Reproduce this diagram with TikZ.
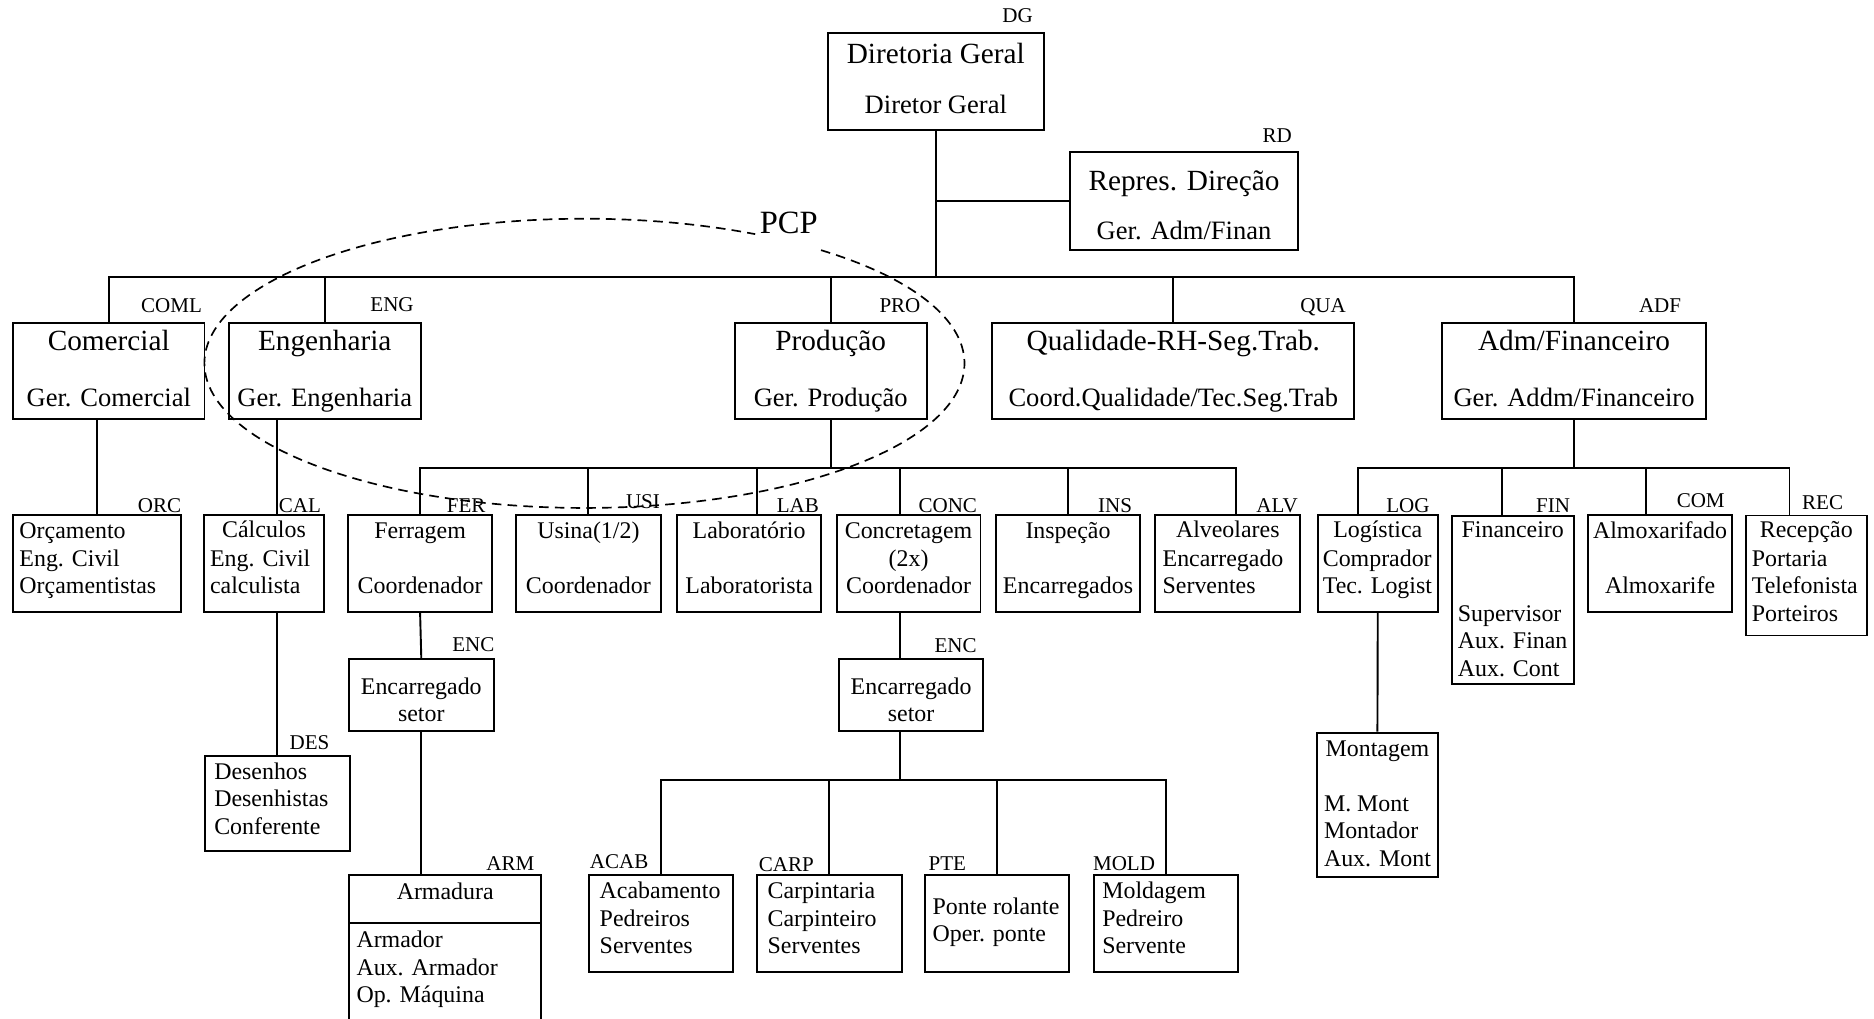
\documentclass[tikz,border=0pt]{standalone}
\usepackage{fontspec}
\setmainfont{Liberation Serif}
\tikzset{
	unit/.style={draw, inner sep=0pt},
	tag/.style={font=\fontsize{8.8}{10}\selectfont, inner sep=0pt, text height=6.2pt, text depth=.9pt},
	ttl/.style={font=\fontsize{12.25}{14}\selectfont, inner sep=0pt, text height=8.6pt, text depth=1.2pt},
	sub/.style={font=\fontsize{11.1}{13}\selectfont, inner sep=0pt, text height=7.8pt, text depth=1.1pt},
	one/.style={font=\fontsize{10}{11.5}\selectfont, inner sep=0pt, text height=7pt, text depth=1pt},
	txt/.style={font=\fontsize{10}{11.5}\selectfont, inner sep=0pt, align=left, anchor=north west},
	txtc/.style={font=\fontsize{10}{11.5}\selectfont, inner sep=0pt, align=center, anchor=north},
	pcpline/.style={dash pattern=on 4pt off 2.6pt, line width=.7pt}
}
\begin{document}
\begin{tikzpicture}[x=.5pt, y=-.5pt, line width=.8pt]
%	\draw[help lines, step=50] (0,0) grid (1568,852);
	\useasboundingbox (0,0) rectangle (1568,852);
	\clip (0,0) rectangle (1568,852);
	% direcao
	\node[unit, minimum width=90.5pt, minimum height=40.5pt] (dg) at (783,68.3) {};
	\node[ttl] (dgt) at (783,46) {Diretoria Geral};
	\node[sub] (dgs) at (783,88.5) {Diretor Geral};
	\node[tag] (dgl) at (851.5,13.5) {DG};
	\node[unit, minimum width=95.3pt, minimum height=40.8pt] (rd) at (990.7,168.3) {};
	\node[ttl] (rdt) at (990.7,152) {Repres. Direção};
	\node[sub] (rds) at (990.7,194) {Ger. Adm/Finan};
	\node[tag] (rdl) at (1068.6,114) {RD};
	% gerencias
	\node[unit, minimum width=80.1pt, minimum height=40pt] (coml) at (91,310.6) {};
	\node[ttl] (comlt) at (91,286) {Comercial};
	\node[sub] (comls) at (91,333.5) {Ger. Comercial};
	\node[tag] (comll) at (143.5,256) {COML};
	\node[unit, minimum width=80.2pt, minimum height=40pt] (eng) at (271.7,310.6) {};
	\node[ttl] (engt) at (271.7,286) {Engenharia};
	\node[sub] (engs) at (271.7,333.5) {Ger. Engenharia};
	\node[tag] (engl) at (328,255) {ENG};
	\node[unit, minimum width=80.3pt, minimum height=40pt] (prod) at (695.1,310.6) {};
	\node[ttl] (prodt) at (695.1,286) {Produção};
	\node[sub] (prods) at (695.1,333.5) {Ger. Produção};
	\node[tag] (prodl) at (753,256) {PRO};
	\node[unit, minimum width=151.4pt, minimum height=40pt] (qua) at (981.7,310.6) {};
	\node[ttl] (quat) at (981.7,286) {Qualidade-RH-Seg.Trab.};
	\node[sub] (quas) at (981.7,333.5) {Coord.Qualidade/Tec.Seg.Trab};
	\node[tag] (qual) at (1107,256.5) {QUA};
	\node[unit, minimum width=110.5pt, minimum height=40pt] (adf) at (1317,310.6) {};
	\node[ttl] (adft) at (1317,286) {Adm/Financeiro};
	\node[sub] (adfs) at (1317,333.5) {Ger. Addm/Financeiro};
	\node[tag] (adfl) at (1389,256) {ADF};
	% setores
	\node[unit, minimum width=70.2pt, minimum height=40.5pt] (orc) at (81.1,471.6) {};
	\node[txt] (orct) at (15.5,434) {\strut Orçamento\\Eng. Civil\\Orçamentistas};
	\node[tag] (orcl) at (133.5,423.4) {ORC};
	\node[unit, minimum width=50.1pt, minimum height=40.5pt] (cal) at (220.9,471.6) {};
	\node[one] (calt) at (220.9,444) {Cálculos};
	\node[txt] (cals) at (175,457) {\strut Eng. Civil\\calculista};
	\node[tag] (call) at (251,423.4) {CAL};
	\node[unit, minimum width=60.5pt, minimum height=40.5pt] (fer) at (351.5,471.6) {};
	\node[txtc] (fert) at (351.5,434) {\strut Ferragem\\[11.5pt]Coordenador};
	\node[tag] (ferl) at (390,423.5) {FER};
	\node[unit, minimum width=60.9pt, minimum height=40.5pt] (usi) at (492.3,471.6) {};
	\node[txtc] (usit) at (492.3,434) {\strut Usina(1/2)\\[11.5pt]Coordenador};
	\node[tag] (usil) at (538,420) {USI};
	\node[unit, minimum width=60.3pt, minimum height=40.5pt] (lab) at (626.8,471.6) {};
	\node[txtc] (labt) at (626.8,434) {\strut Laboratório\\[11.5pt]Laboratorista};
	\node[tag] (labl) at (667.6,423.5) {LAB};
	\node[unit, minimum width=60.2pt, minimum height=40.5pt] (conc) at (760.2,471.6) {};
	\node[txtc] (conct) at (760.2,434) {\strut Concretagem\\(2x)\\Coordenador};
	\node[tag] (concl) at (793,423.5) {CONC};
	\node[unit, minimum width=60.1pt, minimum height=40.5pt] (ins) at (893.6,471.6) {};
	\node[txtc] (inst) at (893.6,434) {\strut Inspeção\\[11.5pt]Encarregados};
	\node[tag] (insl) at (933,423.5) {INS};
	\node[unit, minimum width=60.7pt, minimum height=40.5pt] (alv) at (1027.3,471.6) {};
	\node[one] (alvt) at (1027.3,444) {Alveolares};
	\node[txt] (alvs) at (972,457) {\strut Encarregado\\Serventes};
	\node[tag] (alvl) at (1068.5,423.5) {ALV};
	\node[unit, minimum width=50.3pt, minimum height=40.5pt] (log) at (1152.8,471.6) {};
	\node[one] (logt) at (1152.8,444) {Logística};
	\node[txt] (logs) at (1106,457) {\strut Comprador\\Tec. Logist};
	\node[tag] (logl) at (1178,423.5) {LOG};
	\node[unit, minimum width=51.1pt, minimum height=70.3pt] (fin) at (1265.7,501.7) {};
	\node[one] (fint) at (1265.7,444) {Financeiro};
	\node[txt] (fins) at (1219,503) {\strut Supervisor\\Aux. Finan\\Aux. Cont};
	\node[tag] (finl) at (1299.5,423.5) {FIN};
	\node[unit, minimum width=60.5pt, minimum height=40.5pt] (com) at (1389,471.6) {};
	\node[txtc] (comt) at (1389,434) {\strut Almoxarifado\\[11.5pt]Almoxarife};
	\node[tag] (coml2) at (1423,419.7) {COM};
	\node[unit, minimum width=50.6pt, minimum height=50.2pt] (rec) at (1511.3,481.5) {};
	\node[one] (rect) at (1511.3,444) {Recepção};
	\node[txt] (recs) at (1465,457) {\strut Portaria\\Telefonista\\Porteiros};
	\node[tag] (recl) at (1525,420.6) {REC};
	% sub-setores
	\node[unit, minimum width=60.5pt, minimum height=39.8pt] (des) at (232.1,672.2) {};
	\node[txt] (dest) at (178.5,635) {\strut Desenhos\\Desenhistas\\Conferente};
	\node[tag] (desl) at (259,622) {DES};
	\node[unit, minimum width=60.5pt, minimum height=30.1pt] (enca) at (352.5,581.7) {};
	\node[txtc] (encat) at (352.5,564) {\strut Encarregado\\setor};
	\node[tag] (encal) at (396,540) {ENC};
	\node[unit, minimum width=60.3pt, minimum height=30.1pt] (encb) at (762.3,581.7) {};
	\node[txtc] (encbt) at (762.3,564) {\strut Encarregado\\setor};
	\node[tag] (encbl) at (799.6,541) {ENC};
	\node[unit, minimum width=80.5pt, minimum height=19.8pt] (arm) at (372.5,752.2) {};
	\node[unit, minimum width=80.5pt, minimum height=50pt] (armb) at (372.5,822) {};
	\node[one] (armt) at (372.5,747) {Armadura};
	\node[txt] (arms) at (297.5,776) {\strut Armador\\Aux. Armador\\Op. Máquina};
	\node[tag] (arml) at (427,723) {ARM};
	\node[unit, minimum width=60.2pt, minimum height=40.3pt] (acab) at (553.2,772.7) {};
	\node[txt] (acabt) at (501,735) {\strut Acabamento\\Pedreiros\\Serventes};
	\node[tag] (acabl) at (518,721) {ACAB};
	\node[unit, minimum width=60.4pt, minimum height=40.3pt] (carp) at (694,772.7) {};
	\node[txt] (carpt) at (641.5,735) {\strut Carpintaria\\Carpinteiro\\Serventes};
	\node[tag] (carpl) at (658,724) {CARP};
	\node[unit, minimum width=60.4pt, minimum height=40.3pt] (pte) at (834.4,772.7) {};
	\node[txt] (ptet) at (779.5,748) {\strut Ponte rolante\\Oper. ponte};
	\node[tag] (ptel) at (792.6,723) {PTE};
	\node[unit, minimum width=60.4pt, minimum height=40.3pt] (mold) at (975.4,772.7) {};
	\node[txt] (moldt) at (921.5,735) {\strut Moldagem\\Pedreiro\\Servente};
	\node[tag] (moldl) at (940.5,723) {MOLD};
	\node[unit, minimum width=50.5pt, minimum height=60.5pt] (mont) at (1152.5,673.5) {};
	\node[one] (montt) at (1152.5,627) {Montagem};
	\node[txt] (monts) at (1107,662) {\strut M. Mont\\Montador\\Aux. Mont};
	% ligacoes
	\draw (dg.south) -- ++(0,122) coordinate (topbus);
	\draw (rd.west) -- (rd.west -| dg.south);
	\draw (coml.north) |- (topbus);
	\draw (eng.north) |- (topbus);
	\draw (prod.north) |- (topbus);
	\draw (qua.north) |- (topbus);
	\draw (adf.north) |- (topbus);
	\draw (orc.north |- coml.south) -- (orc.north);
	\draw (eng.south -| des.north) -- (cal.north -| des.north);
	\draw (cal.south -| des.north) -- (des.north);
	\draw (prod.south) -- ++(0,40.5) coordinate (prodbus);
	\draw (fer.north) |- (prodbus);
	\draw (usi.north) |- (prodbus);
	\draw ([xshift=3.4pt]lab.north) |- (prodbus);
	\draw ([xshift=-3.4pt]conc.north) |- (prodbus);
	\draw (ins.north) |- (prodbus);
	\draw ([xshift=3.3pt]alv.north) |- (prodbus);
	\draw (fer.south) -- (enca.north);
	\draw (enca.south) -- (enca.south |- arm.north);
	\draw ([xshift=-3.4pt]conc.south) coordinate (cdrop) -- (cdrop |- encb.north);
	\draw (encb.south -| cdrop) -- ++(0,40.3) coordinate (encbus);
	\draw (acab.north) |- (encbus);
	\draw (carp.north) |- (encbus);
	\draw (pte.north) |- (encbus);
	\draw (mold.north) |- (encbus);
	\draw (adf.south) -- ++(0,40.5) coordinate (adfbus);
	\draw ([xshift=-8.4pt]log.north) |- (adfbus);
	\draw ([xshift=-4.5pt]fin.north) |- (adfbus);
	\draw ([xshift=-5.9pt]com.north) |- (adfbus);
	\draw ([xshift=-7pt]rec.north) |- (adfbus);
	\draw (log.south) -- (mont.north);
	% PCP
	\draw[pcpline] (489,304) ++(-51.5:318 and 121) arc [start angle=-51.5, end angle=296.7, x radius=318, y radius=121];
	\node[font=\fontsize{13.6}{16}\selectfont, inner sep=0pt, text height=9.5pt, text depth=1.4pt] (pcp) at (660,187) {PCP};
\end{tikzpicture}
\end{document}
